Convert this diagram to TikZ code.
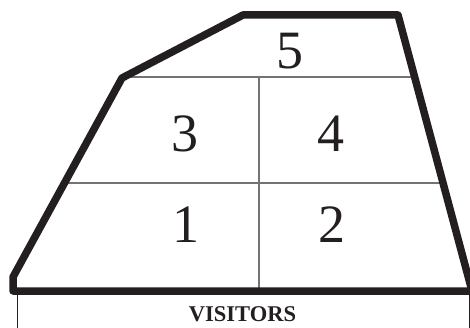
\documentclass[tikz,border=0pt]{standalone}
\usepackage{fontspec}
\setmainfont{Liberation Serif}
\usetikzlibrary{calc}
\definecolor{ink}{HTML}{231F20}
\tikzset{
  wall/.style={
    draw=ink,
    line width=7.5pt,
    line join=round
  },
  divider/.style={
    draw=black!55,
    line width=1.2pt
  },
  stand line/.style={
    draw=ink,
    line width=1pt
  },
  area label/.style={
    inner sep=0pt,
    text=ink,
    font=\fontsize{54}{54}\selectfont
  },
  stand label/.style={
    inner sep=0pt,
    text=ink,
    font=\fontsize{22.5}{22.5}\selectfont\bfseries
  }
}
\begin{document}
\begin{tikzpicture}[x=1pt, y=-1pt]
    \useasboundingbox (0,0) rectangle (470,328);
    \clip (0,0) rectangle (470,328);

    % outline of the sector
    \coordinate (BL)  at (13, 291);
    \coordinate (BL2) at (13, 277);
    \coordinate (SH)  at (122, 78);
    \coordinate (TL)  at (243, 15);
    \coordinate (TR)  at (398, 15);
    \coordinate (BR)  at (472, 291);

    % ends of the inner divisions on the walls
    \coordinate (M1L) at (122, 77);
    \coordinate (M1R) at (414, 77);
    \coordinate (M2L) at (64, 183);
    \coordinate (M2R) at (443, 183);
    \coordinate (VT)  at (259, 77);
    \coordinate (VB)  at (259, 291);

    % thin divisions
    \draw[divider] (M1L) -- (M1R);
    \draw[divider] (M2L) -- (M2R);
    \draw[divider] (VT) -- (VB);

    % visitors stand below
    \coordinate (SL) at (17, 291);
    \coordinate (SR) at (469, 291);
    \draw[stand line] (SL) -- ++(0, 40);
    \draw[stand line] (SR) -- ++(0, 40);

    % thick wall
    \draw[wall] (BR) -- (BL) -- (BL2) -- (SH) -- (TL) -- (TR) -- cycle;

    % area numbers
    \node[area label] (n5) at (289.5, 51.5) {5};
    \node[area label] (n3) at (184.5, 133.5) {3};
    \node[area label] (n4) at (331, 133.5) {4};
    \node[area label] (n1) at (185.5, 225) {1};
    \node[area label] (n2) at (331.5, 225) {2};

    \node[stand label] (visitors) at (242.5, 314) {VISITORS};

\end{tikzpicture}
\end{document}
